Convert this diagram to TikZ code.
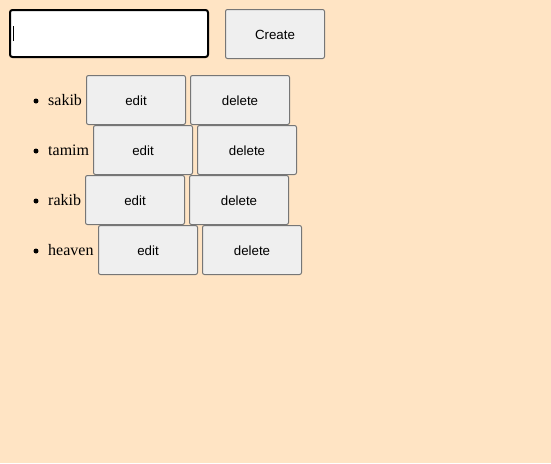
\documentclass[tikz,border=0pt]{standalone}
\usepackage{fontspec}
\setmainfont{Liberation Serif}
\newfontfamily\btnfont{Liberation Sans}
\definecolor{pagebg}{RGB}{255,228,196}
\definecolor{btnfill}{RGB}{239,239,239}
\definecolor{btnline}{RGB}{118,118,118}
\begin{document}
\begin{tikzpicture}[x=1pt,y=-1pt,
  btn/.style={draw=btnline, fill=btnfill, line width=1pt, rounded corners=2pt,
    minimum width=99pt, minimum height=49pt, inner sep=0pt, outer sep=0pt,
    text height=11.2pt, text depth=0pt,
    font=\btnfont\fontsize{13.3}{15}\selectfont},
  itemname/.style={anchor=base west, inner sep=0pt, font=\fontsize{16}{19}\selectfont},
  bulletdot/.style={circle, fill=black, inner sep=0pt, minimum size=5pt}]
\fill[pagebg] (0,0) rectangle (551,463);
\useasboundingbox (0,0) rectangle (551,463);
% input
\node[draw=black, fill=white, line width=2pt, rounded corners=2.5pt, minimum width=198pt,
  minimum height=47pt, inner sep=0pt] (inp) at (109,33.5) {};
\draw[line width=1pt] ([xshift=4pt,yshift=-7.5pt]inp.west) -- ([xshift=4pt,yshift=7.5pt]inp.west);
\node[btn] (create) at (275,34) {Create};
% row 1
\node[bulletdot] (b1) at (36,101) {};
\node[itemname] (n1) at (48,105) {sakib};
\node[btn] (e1) at (136,100) {edit};
\node[btn] (d1) at (240,100) {delete};
% row 2
\node[bulletdot] (b2) at (36,151) {};
\node[itemname] (n2) at (48,155) {tamim};
\node[btn] (e2) at (143,150) {edit};
\node[btn] (d2) at (247,150) {delete};
% row 3
\node[bulletdot] (b3) at (36,201) {};
\node[itemname] (n3) at (48,205) {rakib};
\node[btn] (e3) at (135,200) {edit};
\node[btn] (d3) at (239,200) {delete};
% row 4
\node[bulletdot] (b4) at (36,251) {};
\node[itemname] (n4) at (48,255) {heaven};
\node[btn] (e4) at (148,250) {edit};
\node[btn] (d4) at (252,250) {delete};
\end{tikzpicture}
\end{document}
